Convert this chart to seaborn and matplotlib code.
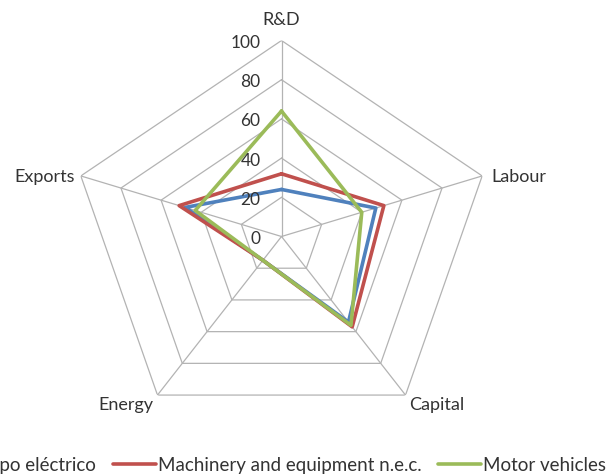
import matplotlib
matplotlib.use("Agg")
import numpy as np
import pandas as pd
import seaborn as sns
import matplotlib.pyplot as plt
from matplotlib.transforms import offset_copy

# Radar axes and series values (index scale 0-100)
categories = ["R&D", "Labour", "Capital", "Energy", "Exports"]
equipo_electrico = [24, 47, 54, 15, 48]
machinery = [32, 51, 57, 15, 51]
motor_vehicles = [64, 40, 56, 15, 43]
series_names = ["Equipo eléctrico", "Machinery and equipment n.e.c.", "Motor vehicles"]
tick_values = [0, 20, 40, 60, 80, 100]
colors = ["#4F81BD", "#C0504D", "#9BBB59"]

sns.set_style("white")
plt.rcParams["font.family"] = ["Lato", "DejaVu Sans"]
text_color = "#333333"
grid_color = "#b3b3b3"

n = len(categories)
angles = [i * 2 * np.pi / n for i in range(n)]
closed_angles = angles + [2 * np.pi]

rows = []
for name, vals in zip(series_names, [equipo_electrico, machinery, motor_vehicles]):
    for a, v in zip(closed_angles, vals + vals[:1]):
        rows.append({"angle": a, "value": v, "sector": name})
df = pd.DataFrame(rows)

W, H = 609, 477
fig = plt.figure(figsize=(W / 100, H / 100), dpi=100)
cx, cy, rx, ry = 281.5, 237.5, 211, 196
ax = fig.add_axes([(cx - rx) / W, (H - cy - ry) / H, 2 * rx / W, 2 * ry / H],
                  projection="polar")
ax.set_theta_zero_location("N")
ax.set_theta_direction(-1)
ax.set_aspect("auto")
ax.grid(False)
ax.spines["polar"].set_visible(False)
ax.set_xticks([])
ax.set_yticks([])
ax.patch.set_alpha(0)

# polygonal web
for v in tick_values[1:]:
    ax.plot(closed_angles, [v] * (n + 1), color=grid_color, lw=0.9, zorder=1)
for a in angles:
    ax.plot([a, a], [0, tick_values[-1]], color=grid_color, lw=0.9, zorder=1)

sns.lineplot(data=df, x="angle", y="value", hue="sector", hue_order=series_names,
             palette=colors, sort=False, estimator=None, linewidth=2.6, ax=ax,
             zorder=3)
for line in ax.get_lines()[-3:]:
    line.set_solid_joinstyle("miter")
ax.set_ylim(0, 100)
ax.set_xlabel("")
ax.set_ylabel("")

# radial value labels along the first spoke
tick_tr = offset_copy(ax.transData, fig=fig, x=-21, y=0, units="dots")
for v in tick_values:
    ax.text(0, v, str(v), transform=tick_tr, ha="right", va="center_baseline",
            fontsize=12.5, color=text_color)

# category labels
label_spec = [(0, 21, "center", "center"), (9, 0, "left", "center"),
              (4, -9, "left", "center"), (-4, -9, "right", "center"),
              (-6, 0, "right", "center")]
for a, name, (dx, dy, ha, va) in zip(angles, categories, label_spec):
    tr = offset_copy(ax.transData, fig=fig, x=dx, y=dy, units="dots")
    ax.text(a, 100, name, transform=tr, ha=ha, va=va, fontsize=13,
            color=text_color)

handles, labels = ax.get_legend_handles_labels()
if ax.get_legend() is not None:
    ax.get_legend().remove()
fig.legend(handles, labels, loc="center", bbox_to_anchor=(262 / W, (H - 466) / H),
           ncol=3, frameon=False, handlelength=2.3, handletextpad=0.1,
           columnspacing=0.9, fontsize=13.5, labelcolor=text_color,
           borderpad=0, borderaxespad=0)

fig.savefig("out.png", dpi=100)
